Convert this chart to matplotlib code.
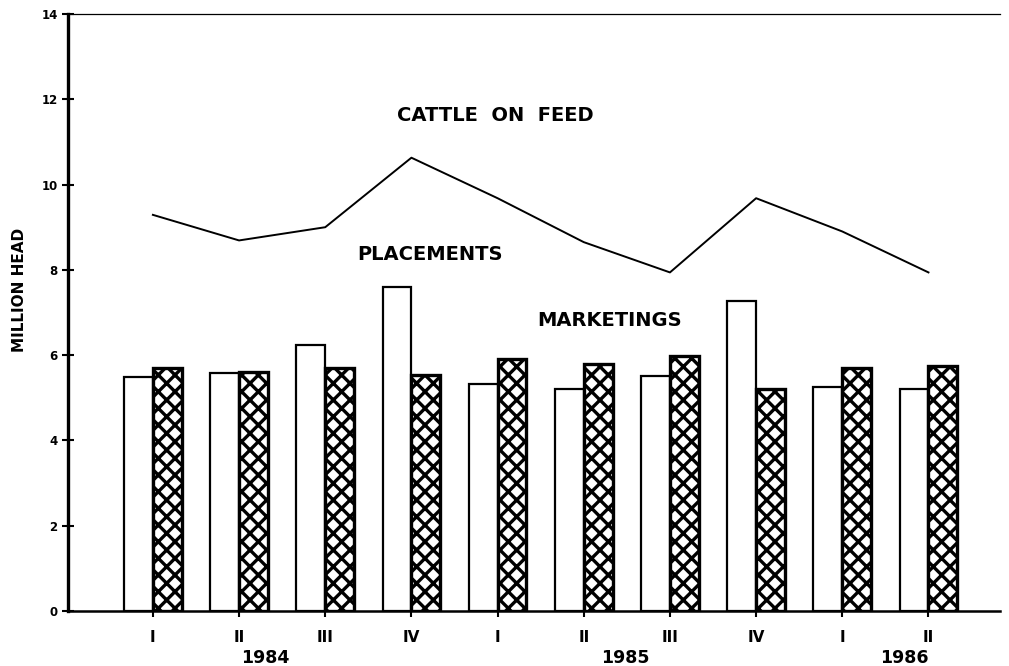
import matplotlib
matplotlib.use("Agg")
import matplotlib.pyplot as plt
import numpy as np

quarters = ["I", "II", "III", "IV", "I", "II", "III", "IV", "I", "II"]
years = ["1984", "1985", "1986"]
year_pos = [1.3, 5.48, 8.72]
placements = [5.49, 5.57, 6.24, 7.59, 5.32, 5.21, 5.50, 7.27, 5.26, 5.21]
marketings = [5.69, 5.61, 5.71, 5.53, 5.90, 5.79, 5.98, 5.21, 5.71, 5.75]
cattle_on_feed = [9.29, 8.69, 9.00, 10.63, 9.68, 8.65, 7.94, 9.68, 8.90, 7.94]

plt.rcParams['hatch.linewidth'] = 2.4

fig = plt.figure(figsize=(10.09, 6.66), dpi=100)
ax = fig.add_axes([68/1009, 1-611/666, (1000-68)/1009, (611-14)/666])

x = np.arange(len(quarters))
w = 0.335
ax.bar(x, placements, width=-w, align='edge', facecolor='white',
       edgecolor='black', linewidth=1.6)
ax.bar(x, marketings, width=w, align='edge', facecolor='white',
       edgecolor='black', linewidth=2.4, hatch='xx')
ax.plot(x, cattle_on_feed, color='black', linewidth=1.4)

ax.set_xlim(-0.985, 9.83)
ax.set_ylim(0, 14)
ax.set_yticks(np.arange(0, 15, 2))
ax.set_yticklabels([str(v) for v in range(0, 15, 2)], fontsize=8.5,
                   fontweight='bold')
ax.tick_params(axis='y', direction='inout', length=9, width=1.5, pad=3)
ax.set_xticks(x)
ax.set_xticklabels(quarters, fontsize=11, fontweight='bold')
ax.tick_params(axis='x', direction='out', length=4, width=1.5, pad=10)

ax.spines['right'].set_visible(False)
ax.spines['top'].set_linewidth(0.9)
ax.spines['left'].set_linewidth(2.4)
ax.spines['bottom'].set_linewidth(1.8)

for yp, yl in zip(year_pos, years):
    ax.text(yp, -1.1, yl, ha='center', va='center',
            fontsize=12.5, fontweight='bold', clip_on=False)

ax.text(3.97, 11.63, "CATTLE  ON  FEED", ha='center', va='center',
        fontsize=14, fontweight='bold')
ax.text(3.21, 8.37, "PLACEMENTS", ha='center', va='center',
        fontsize=14, fontweight='bold')
ax.text(5.30, 6.81, "MARKETINGS", ha='center', va='center',
        fontsize=14, fontweight='bold')

fig.text(20/1009, 1-290/666, "MILLION HEAD", rotation=90, ha='center',
         va='center', fontsize=11, fontweight='bold')

fig.savefig("out.png", dpi=100)
